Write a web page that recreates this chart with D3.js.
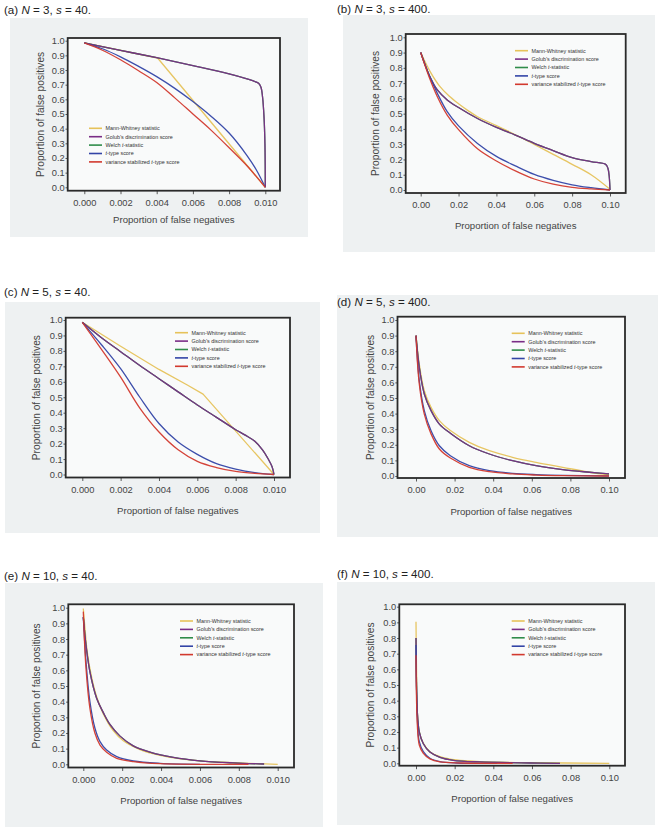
<!DOCTYPE html>
<html><head><meta charset="utf-8">
<script src="https://cdn.jsdelivr.net/npm/d3@7"></script>
<style>
body{margin:0;background:#fff;}
svg{display:block;font-family:"Liberation Sans",Arial,Helvetica,sans-serif;}
</style></head>
<body>
<svg id="chart" width="659" height="831"></svg>
<script>
// ---------- DATA (proportion of false negatives, proportion of false positives) ----------
const seriesNames = ["Mann-Whitney statistic", "Golub\u2019s discrimination score", "Welch t-statistic", "t-type score", "variance stabilized t-type score"];
const panelTitles = [["(a) ", "3", "40."], ["(b) ", "3", "400."], ["(c) ", "5", "40."], ["(d) ", "5", "400."], ["(e) ", "10", "40."], ["(f) ", "10", "400."]];
const yTickValues = [0, 0.1, 0.2, 0.3, 0.4, 0.5, 0.6, 0.7, 0.8, 0.9, 1.0];
const xTicksSmall = [0, 0.002, 0.004, 0.006, 0.008, 0.010];
const xTicksLarge = [0, 0.02, 0.04, 0.06, 0.08, 0.10];
const xLabel = "Proportion of false negatives";
const yLabel = "Proportion of false positives";

// (a) N=3, s=40
const a_mw = [[0,0.985],[0.00405,0.882],[0.010,0.0]];
const a_golub = [[0,0.985],[0.002,0.934],[0.004,0.884],[0.006,0.83],[0.008,0.773],[0.0093,0.727],[0.00963,0.709],[0.00976,0.682],[0.00985,0.614],[0.00993,0.477],[0.00998,0.295],[0.010,0.0]];
const a_welch = [[0,0.985],[0.002,0.934],[0.004,0.884],[0.006,0.83],[0.008,0.773],[0.0093,0.727],[0.00963,0.709],[0.00976,0.682],[0.00985,0.614],[0.00993,0.477],[0.00998,0.295],[0.010,0.0]];
const a_ttype = [[0,0.985],[0.001,0.945],[0.002,0.89],[0.003,0.825],[0.004,0.755],[0.005,0.675],[0.006,0.585],[0.007,0.485],[0.008,0.37],[0.009,0.215],[0.0095,0.12],[0.010,0.0]];
const a_vst = [[0,0.985],[0.001,0.935],[0.002,0.87],[0.003,0.795],[0.004,0.715],[0.005,0.61],[0.006,0.5],[0.007,0.39],[0.008,0.27],[0.009,0.145],[0.010,0.0]];

// (b) N=3, s=400
const b_mw = [[0,0.90],[0.005,0.775],[0.01,0.68],[0.015,0.615],[0.02,0.565],[0.025,0.52],[0.03,0.48],[0.04,0.422],[0.05,0.362],[0.06,0.298],[0.07,0.233],[0.08,0.168],[0.09,0.1],[0.1,0.005]];
const b_golub = [[0,0.90],[0.0044,0.755],[0.0088,0.655],[0.014,0.59],[0.02,0.54],[0.03,0.468],[0.04,0.41],[0.05,0.36],[0.06,0.306],[0.07,0.258],[0.08,0.212],[0.09,0.186],[0.0977,0.168],[0.0989,0.142],[0.0996,0.087],[0.1,0.0]];
const b_welch = [[0,0.90],[0.0044,0.755],[0.0088,0.655],[0.014,0.59],[0.02,0.54],[0.03,0.468],[0.04,0.41],[0.05,0.36],[0.06,0.306],[0.07,0.258],[0.08,0.212],[0.09,0.186],[0.0977,0.168],[0.0989,0.142],[0.0996,0.087],[0.1,0.0]];
const b_ttype = [[0,0.90],[0.0044,0.753],[0.0088,0.633],[0.014,0.513],[0.02,0.42],[0.03,0.305],[0.04,0.22],[0.05,0.158],[0.06,0.102],[0.07,0.063],[0.08,0.034],[0.09,0.015],[0.1,0.0]];
const b_vst = [[0,0.90],[0.0044,0.742],[0.0088,0.611],[0.014,0.491],[0.02,0.395],[0.03,0.27],[0.04,0.19],[0.05,0.125],[0.06,0.072],[0.07,0.038],[0.08,0.017],[0.09,0.007],[0.1,0.0]];

// (c) N=5, s=40
const c_mw = [[0,0.985],[0.002,0.83],[0.004,0.68],[0.0055,0.578],[0.0063,0.52],[0.010,0.0]];
const c_golub = [[0,0.985],[0.001,0.885],[0.002,0.795],[0.003,0.705],[0.004,0.62],[0.005,0.535],[0.006,0.45],[0.007,0.37],[0.008,0.29],[0.0085,0.255],[0.009,0.215],[0.0094,0.16],[0.0097,0.1],[0.0099,0.05],[0.010,0.0]];
const c_welch = [[0,0.985],[0.001,0.885],[0.002,0.795],[0.003,0.705],[0.004,0.62],[0.005,0.535],[0.006,0.45],[0.007,0.37],[0.008,0.29],[0.0085,0.255],[0.009,0.215],[0.0094,0.16],[0.0097,0.1],[0.0099,0.05],[0.010,0.0]];
const c_ttype = [[0,0.985],[0.001,0.84],[0.002,0.685],[0.003,0.5],[0.004,0.33],[0.005,0.21],[0.006,0.13],[0.007,0.07],[0.008,0.035],[0.009,0.012],[0.010,0.0]];
const c_vst = [[0,0.985],[0.001,0.81],[0.002,0.63],[0.003,0.43],[0.004,0.275],[0.005,0.16],[0.006,0.085],[0.007,0.045],[0.008,0.02],[0.009,0.007],[0.010,0.0]];

// (d) N=5, s=400
const d_mw = [[0,0.90],[0.0017,0.718],[0.0043,0.547],[0.0078,0.44],[0.0121,0.355],[0.0178,0.291],[0.0276,0.216],[0.038,0.162],[0.05,0.12],[0.0622,0.088],[0.076,0.056],[0.0898,0.024],[0.1,0.008]];
const d_golub = [[0,0.90],[0.0017,0.697],[0.0043,0.526],[0.0078,0.419],[0.0121,0.333],[0.0178,0.274],[0.0276,0.194],[0.038,0.141],[0.05,0.098],[0.0622,0.066],[0.076,0.041],[0.0898,0.024],[0.1,0.013]];
const d_welch = [[0,0.90],[0.0017,0.697],[0.0043,0.526],[0.0078,0.419],[0.0121,0.333],[0.0178,0.274],[0.0276,0.194],[0.038,0.141],[0.05,0.098],[0.0622,0.066],[0.076,0.041],[0.0898,0.024],[0.1,0.013]];
const d_ttype = [[0,0.90],[0.0017,0.611],[0.0043,0.419],[0.0078,0.29],[0.0121,0.194],[0.0178,0.13],[0.0276,0.066],[0.038,0.034],[0.05,0.017],[0.0622,0.009],[0.076,0.004],[0.1,0.0]];
const d_vst = [[0,0.90],[0.0017,0.59],[0.0043,0.397],[0.0078,0.27],[0.0121,0.173],[0.0178,0.115],[0.0276,0.056],[0.038,0.028],[0.05,0.013],[0.0622,0.006],[0.076,0.002],[0.1,0.0]];

// (e) N=10, s=40
const e_mw = [[0,0.995],[0.0001,0.847],[0.0002,0.72],[0.00043,0.555],[0.00069,0.43],[0.00103,0.322],[0.00154,0.215],[0.00206,0.15],[0.00292,0.094],[0.00395,0.057],[0.005,0.035],[0.006,0.022],[0.0077,0.01],[0.010,0.0]];
const e_golub = [[0,0.94],[0.00014,0.76],[0.00034,0.59],[0.00069,0.42],[0.00103,0.33],[0.00137,0.255],[0.00189,0.18],[0.00257,0.118],[0.00343,0.078],[0.00463,0.044],[0.006,0.022],[0.0077,0.009],[0.0093,0.002]];
const e_welch = [[0,0.94],[0.00014,0.76],[0.00034,0.59],[0.00069,0.42],[0.00103,0.33],[0.00137,0.255],[0.00189,0.18],[0.00257,0.118],[0.00343,0.078],[0.00463,0.044],[0.006,0.022],[0.0077,0.009],[0.0093,0.002]];
const e_ttype = [[0,0.94],[0.00014,0.655],[0.00034,0.40],[0.0006,0.23],[0.00086,0.145],[0.0012,0.091],[0.00172,0.049],[0.00257,0.021],[0.00395,0.006],[0.006,0.0]];
const e_vst = [[0,0.975],[0.00014,0.61],[0.00034,0.357],[0.0006,0.198],[0.00086,0.123],[0.0012,0.077],[0.00172,0.038],[0.00257,0.017],[0.00395,0.004],[0.0085,0.0]];

// (f) N=10, s=400
const f_mw = [[0,0.904],[0.00034,0.54],[0.00086,0.287],[0.0021,0.181],[0.0038,0.128],[0.0072,0.074],[0.0124,0.043],[0.021,0.021],[0.033,0.011],[0.059,0.004],[0.1,0.0]];
const f_golub = [[0,0.80],[0.00069,0.33],[0.0017,0.2],[0.0038,0.125],[0.0072,0.072],[0.0124,0.038],[0.0193,0.019],[0.033,0.0085],[0.059,0.002],[0.0745,0.0]];
const f_welch = [[0,0.80],[0.00069,0.33],[0.0017,0.2],[0.0038,0.125],[0.0072,0.072],[0.0124,0.038],[0.0193,0.019],[0.033,0.0085],[0.059,0.002],[0.0745,0.0]];
const f_ttype = [[0,0.755],[0.00069,0.287],[0.0017,0.138],[0.0038,0.074],[0.0072,0.032],[0.0124,0.011],[0.021,0.002],[0.042,0.0]];
const f_vst = [[0,0.69],[0.00069,0.245],[0.0017,0.117],[0.0038,0.064],[0.0072,0.028],[0.0124,0.0085],[0.024,0.002],[0.05,0.0]];

// ---------- LAYOUT & STYLE ----------
const colors = ["#e6c25a", "#7a2d86", "#2f8c4a", "#3344a6", "#d2392e"];
const drawOrder = [0, 2, 1, 3, 4];
const panels = [
  {series:[a_mw,a_golub,a_welch,a_ttype,a_vst], xmax:0.010, ticks:xTicksSmall, fmt:".3f", sharpMW:true,
   bg:[10,18,308,237], frame:[67.7,38,280,190.7], xr:[84.3,265.3], yr:[187.3,40.7], title:[4,14], xt:223, ytx:40, leg:[89,128.3]},
  {series:[b_mw,b_golub,b_welch,b_ttype,b_vst], xmax:0.10, ticks:xTicksLarge, fmt:".2f", sharpMW:false,
   bg:[343,15,655,252], frame:[405.7,34,625.7,193], xr:[420.7,610], yr:[190,37.3], title:[337,13], xt:228.5, ytx:375, leg:[515,50.7]},
  {series:[c_mw,c_golub,c_welch,c_ttype,c_vst], xmax:0.010, ticks:xTicksSmall, fmt:".3f", sharpMW:true,
   bg:[5,302,320,533], frame:[65.7,317.7,290,477.5], xr:[82.3,274], yr:[474.5,320], title:[4,296], xt:513.5, ytx:36.7, leg:[175,332.7]},
  {series:[d_mw,d_golub,d_welch,d_ttype,d_vst], xmax:0.10, ticks:xTicksLarge, fmt:".2f", sharpMW:false,
   bg:[337,295,658,537], frame:[397.5,316.7,625,478], xr:[416,609], yr:[476,320], title:[337,306], xt:515, ytx:370, leg:[511.7,333.3]},
  {series:[e_mw,e_golub,e_welch,e_ttype,e_vst], xmax:0.010, ticks:xTicksSmall, fmt:".3f", sharpMW:false,
   bg:[5,583,323,827], frame:[68.3,604.3,294,767.5], xr:[83.3,277.7], yr:[764.3,607.7], title:[4,580], xt:803.5, ytx:36.7, leg:[180,621]},
  {series:[f_mw,f_golub,f_welch,f_ttype,f_vst], xmax:0.10, ticks:xTicksLarge, fmt:".2f", sharpMW:false,
   bg:[337,582,655,825], frame:[399.3,604.3,625,765.7], xr:[416,609.3], yr:[763.3,606.7], title:[337,578], xt:801.7, ytx:370, leg:[511.7,621]}
];

const svg = d3.select("#chart");

function legendText(sel, name){
  const m = name.match(/^(.*?)\bt(-.*)$/);
  if (m && name !== "Mann-Whitney statistic") {
    sel.append("tspan").text(m[1]);
    sel.append("tspan").attr("font-style","italic").text("t");
    sel.append("tspan").text(m[2]);
  } else sel.text(name);
}

panels.forEach((p, i) => {
  const g = svg.append("g");
  const [bx0,by0,bx1,by1] = p.bg;
  g.append("rect").attr("x",bx0).attr("y",by0).attr("width",bx1-bx0).attr("height",by1-by0).attr("fill","#eef1f2");
  const [fx0,fy0,fx1,fy1] = p.frame;
  g.append("rect").attr("x",fx0).attr("y",fy0).attr("width",fx1-fx0).attr("height",fy1-fy0).attr("fill","#f9fafa");

  // title
  const t = panelTitles[i];
  const tt = g.append("text").attr("x",p.title[0]).attr("y",p.title[1]).attr("font-size",11.6).attr("fill","#222");
  tt.append("tspan").text(t[0]);
  tt.append("tspan").attr("font-style","italic").text("N");
  tt.append("tspan").text(" = " + t[1] + ", ");
  tt.append("tspan").attr("font-style","italic").text("s");
  tt.append("tspan").text(" = " + t[2]);

  const x = d3.scaleLinear().domain([0,p.xmax]).range(p.xr);
  const y = d3.scaleLinear().domain([0,1]).range(p.yr);

  // axes
  const xa = g.append("g").attr("transform",`translate(0,${fy1})`)
    .call(d3.axisBottom(x).tickValues(p.ticks).tickFormat(d3.format(p.fmt)).tickSize(3.5).tickPadding(5));
  const ya = g.append("g").attr("transform",`translate(${fx0},0)`)
    .call(d3.axisLeft(y).tickValues(yTickValues).tickFormat(d3.format(".1f")).tickSize(2.2).tickPadding(0.8));
  [xa,ya].forEach(a => {
    a.select(".domain").remove();
    a.selectAll(".tick line").attr("stroke","#333").attr("stroke-width",0.8);
    a.selectAll(".tick text").attr("fill","#444").attr("font-size",9.3).attr("font-family","'Liberation Sans',Arial,sans-serif");
  });

  // curves
  const clipId = "clip"+i;
  g.append("clipPath").attr("id",clipId).append("rect")
    .attr("x",fx0).attr("y",fy0-2).attr("width",fx1-fx0).attr("height",fy1-fy0+2);
  const lines = g.append("g").attr("clip-path",`url(#${clipId})`);
  drawOrder.forEach(k => {
    const curve = (k === 0 && p.sharpMW) ? d3.curveLinear : d3.curveCatmullRom.alpha(0.5);
    const line = d3.line().x(d => x(d[0])).y(d => y(d[1])).curve(curve);
    lines.append("path").datum(p.series[k]).attr("d",line)
      .attr("fill","none").attr("stroke",colors[k]).attr("stroke-width",1.3)
      .attr("stroke-linejoin","round").attr("stroke-opacity",0.95);
  });

  // frame
  g.append("rect").attr("x",fx0).attr("y",fy0).attr("width",fx1-fx0).attr("height",fy1-fy0)
    .attr("fill","none").attr("stroke","#2a2a2a").attr("stroke-width",1.8);

  // axis titles
  g.append("text").attr("x",(fx0+fx1)/2).attr("y",p.xt).attr("text-anchor","middle")
    .attr("font-size",9.6).attr("fill","#444").text(xLabel);
  g.append("text").attr("transform",`translate(${p.ytx},${(fy0+fy1)/2}) rotate(-90)`).attr("dy","0.35em")
    .attr("text-anchor","middle").attr("font-size",10.2).attr("fill","#444").text(yLabel);

  // legend
  const lg = g.append("g");
  seriesNames.forEach((name, k) => {
    const ly = p.leg[1] + k*8.4;
    lg.append("line").attr("x1",p.leg[0]).attr("x2",p.leg[0]+13).attr("y1",ly).attr("y2",ly)
      .attr("stroke",colors[k]).attr("stroke-width",1.6);
    const tx = lg.append("text").attr("x",p.leg[0]+16.5).attr("y",ly).attr("dy","0.35em")
      .attr("font-size",5.4).attr("fill","#333");
    legendText(tx, name);
  });
});
</script>
</body></html>
